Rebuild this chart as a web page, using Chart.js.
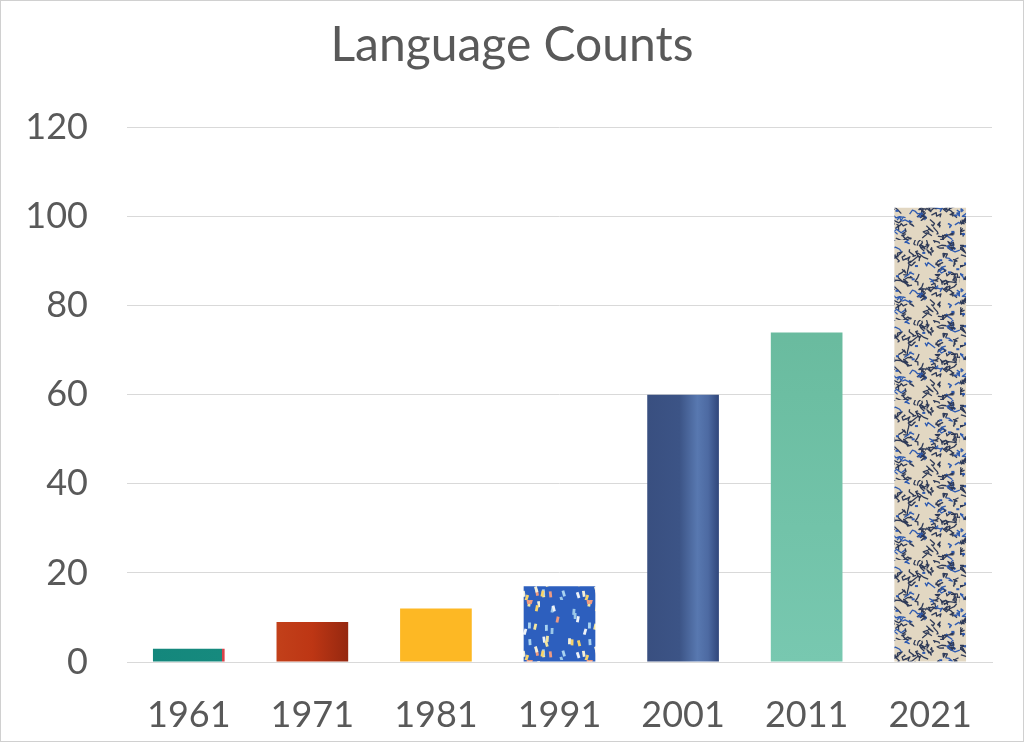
<!DOCTYPE html>
<html><head><meta charset="utf-8">
<script src="https://cdn.jsdelivr.net/npm/chart.js@4"></script>
<style>html,body{margin:0;padding:0;background:#fff}#wrap{width:1024px;height:742px}</style>
</head>
<body><div id="wrap"><canvas id="c" width="1024" height="742"></canvas></div>
<script>
const categories = ['1961', '1971', '1981', '1991', '2001', '2011', '2021'];
const languageCounts = [3, 9, 12, 17, 60, 74, 102];
const yTicks = [0, 20, 40, 60, 80, 100, 120];
const chartTitle = 'Language Counts';

const BAR_PCT = 0.58;
// deterministic hash for textures
function hash(n){ const s = Math.sin(n * 127.1 + 311.7) * 43758.5453; return s - Math.floor(s); }

function makeTile(w, h, draw){
  const c = document.createElement('canvas'); c.width = w; c.height = h;
  draw(c.getContext('2d'), w, h);
  return c;
}
const confettiTile = makeTile(60, 60, (g, w, h) => {
  g.fillStyle = '#2d5fbe'; g.fillRect(0, 0, w, h);
  const cols = ['#f3e6a0', '#a9d3f0', '#ee9a80', '#eef2f7', '#f6d36b', '#9cc8e8', '#f4f0d8'];
  for (let k = 0; k < 34; k++) {
    const x = hash(k) * w, y = hash(k + 50) * h;
    g.save(); g.translate(x, y); g.rotate((hash(k + 90) - 0.5) * 0.7);
    g.fillStyle = cols[k % cols.length];
    g.fillRect(-1.3, -3, 2.8, 6);
    g.restore();
  }
});
const scribbleTile = makeTile(80, 80, (g, w, h) => {
  g.fillStyle = '#e2d7c2'; g.fillRect(0, 0, w, h);
  g.lineWidth = 1.3;
  g.lineJoin = 'round';
  for (let k = 0; k < 120; k++) {
    g.strokeStyle = k % 5 === 0 ? '#2f5bb0' : '#2e3a58';
    let x = hash(k + 3) * w, y = hash(k + 200) * h;
    g.beginPath(); g.moveTo(x, y);
    for (let s = 0; s < 4; s++) {
      x += (hash(k * 7 + s) - 0.5) * 10; y += (hash(k * 11 + s + 400) - 0.5) * 8;
      g.lineTo(x, y);
    }
    g.stroke();
  }
  g.fillStyle = '#2c58b0';
  for (let k = 0; k < 16; k++) {
    g.fillRect(hash(k + 700) * w, hash(k + 800) * h, 3, 2);
  }
});

function hGrad(chart, i, stops){
  const xs = chart.scales && chart.scales.x;
  if (!xs || !xs.width) return stops[0][1];
  const c = xs.getPixelForValue(i);
  const bw = (xs.width / categories.length) * BAR_PCT;
  const gr = chart.ctx.createLinearGradient(c - bw / 2, 0, c + bw / 2, 0);
  stops.forEach(s => gr.addColorStop(s[0], s[1]));
  return gr;
}
function vGrad(chart, stops){
  const ys = chart.scales && chart.scales.y;
  if (!ys || !ys.height) return stops[0][1];
  const gr = chart.ctx.createLinearGradient(0, ys.top, 0, ys.bottom);
  stops.forEach(s => gr.addColorStop(s[0], s[1]));
  return gr;
}

const fills = [
  (ch) => hGrad(ch, 0, [[0, '#14877c'], [0.96, '#168a7e'], [0.97, '#d9424a'], [1, '#d9424a']]),
  (ch) => hGrad(ch, 1, [[0, '#c2401a'], [0.5, '#bd3614'], [1, '#952810']]),
  (ch) => '#fdb824',
  (ch) => ch.ctx.createPattern(confettiTile, 'repeat'),
  (ch) => hGrad(ch, 4, [[0, '#394f80'], [0.45, '#3c5486'], [0.7, '#5878b0'], [0.85, '#4d6aa2'], [1, '#30467a']]),
  (ch) => vGrad(ch, [[0, '#62b094'], [0.5, '#6cbea2'], [1, '#78c8b0']]),
  (ch) => ch.ctx.createPattern(scribbleTile, 'repeat')
];

const borderPlugin = {
  id: 'frame',
  afterDraw(chart){
    const g = chart.ctx; g.save();
    g.strokeStyle = '#d0d0d0'; g.lineWidth = 1;
    g.strokeRect(0.5, 0.5, chart.width - 1, chart.height - 1);
    g.restore();
  }
};

new Chart(document.getElementById('c'), {
  type: 'bar',
  data: {
    labels: categories,
    datasets: [{
      label: 'Languages',
      data: languageCounts,
      backgroundColor: (ctx) => fills[ctx.dataIndex](ctx.chart),
      borderWidth: 0,
      categoryPercentage: 1,
      barPercentage: BAR_PCT
    }]
  },
  options: {
    responsive: false,
    animation: false,
    layout: { padding: 0 },
    plugins: {
      legend: { display: false },
      tooltip: { enabled: false },
      title: {
        display: true,
        text: chartTitle,
        color: '#595959',
        font: { family: 'Lato', size: 48, weight: 'normal', lineHeight: 1.2 },
        padding: { top: 17, bottom: 53 }
      }
    },
    scales: {
      x: {
        grid: { display: false, drawTicks: false },
        border: { display: true, color: '#d9d9d9', width: 1 },
        ticks: { color: '#595959', font: { family: 'Lato', size: 36 }, padding: 32 },
        afterFit: (s) => { s.height = 80; }
      },
      y: {
        min: 0, max: 120,
        afterBuildTicks: (s) => { s.ticks = yTicks.map(v => ({ value: v })); },
        grid: { color: '#d9d9d9', drawTicks: false },
        border: { display: false },
        ticks: { color: '#595959', font: { family: 'Lato', size: 36 }, padding: 39 },
        afterFit: (s) => { s.width = 127; }
      },
      yRight: {
        position: 'right',
        display: true,
        grid: { display: false, drawTicks: false },
        border: { display: false },
        ticks: { display: false },
        afterFit: (s) => { s.width = 32; }
      }
    }
  },
  plugins: [borderPlugin]
});
</script>
</body></html>
